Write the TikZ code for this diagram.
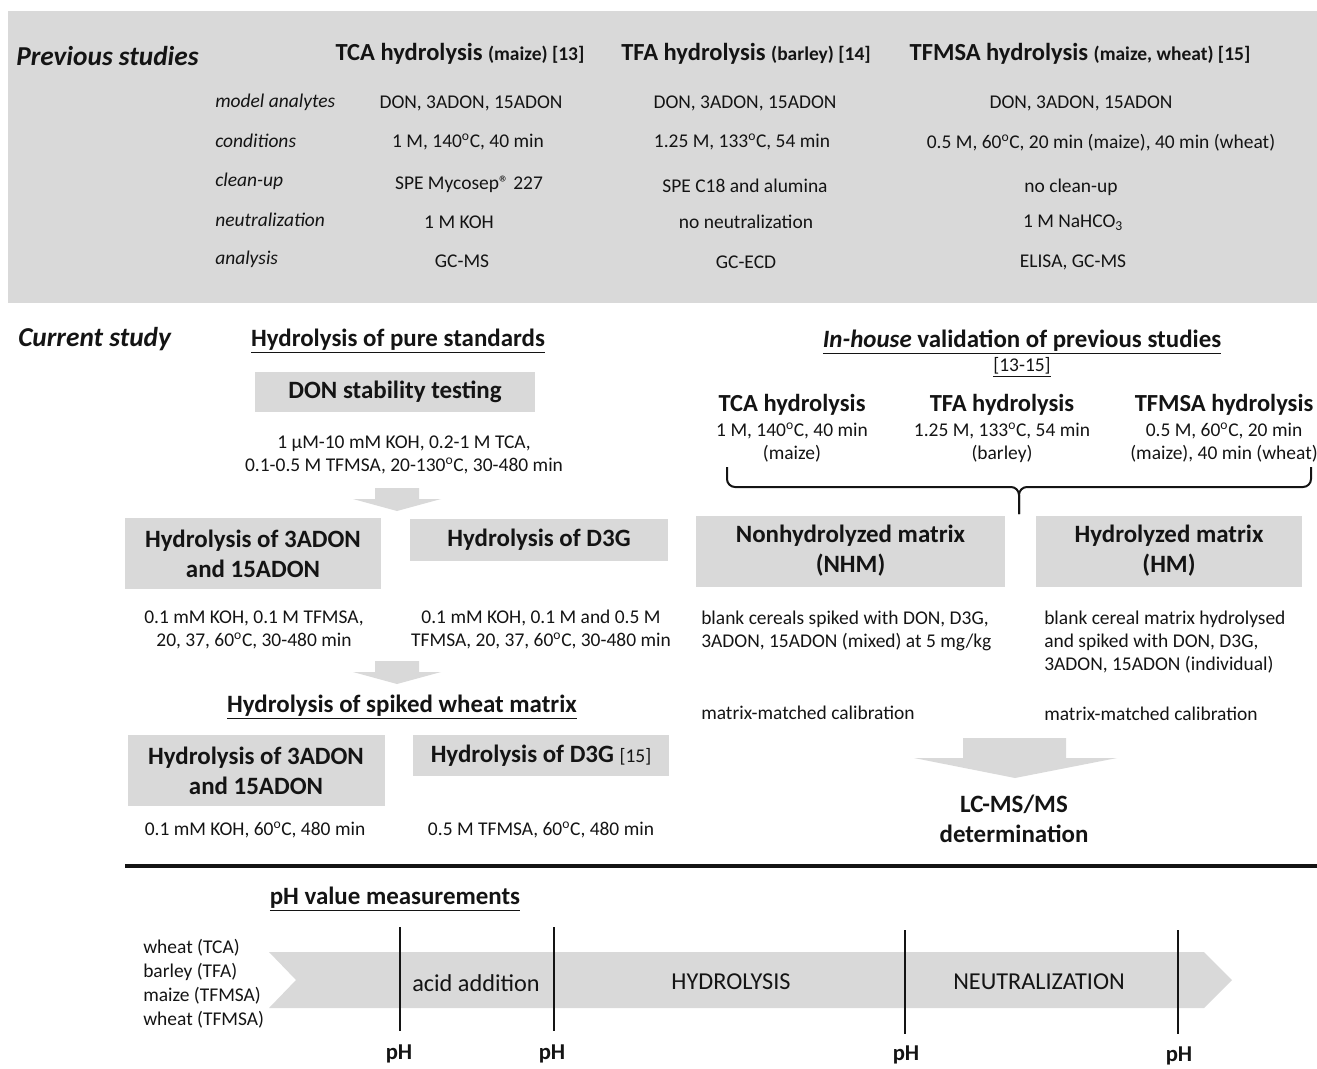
\documentclass[tikz,border=0pt]{standalone}
\usepackage{fontspec}
\setmainfont{Carlito}
\definecolor{boxgray}{HTML}{D9D9D9}
\definecolor{txt}{HTML}{141414}
\newcommand\fBody{\fontsize{14.6}{17.3}\selectfont}
\newcommand\fHead{\fontsize{18.7}{22.5}\selectfont\bfseries}
\newcommand\fColHead{\fontsize{18.4}{22}\selectfont\bfseries}
\newcommand\fSmallB{\fontsize{14.6}{17.3}\selectfont\bfseries}
\newcommand\fTitle{\fontsize{20.5}{24}\selectfont\bfseries\itshape}
\newcommand\fStep{\fontsize{18.2}{22}\selectfont}
\newcommand\fPH{\fontsize{17}{20}\selectfont\bfseries}
\newcommand\dgr{\textsuperscript{o}}
\begin{document}
\begin{tikzpicture}[x=0.75pt,y=-0.75pt,
  every node/.style={inner sep=0pt, text=txt},
  wh/.style 2 args={minimum width=#1*0.75pt, minimum height=#2*0.75pt},
  gbox/.style={fill=boxgray, align=center, font=\fHead},
  body/.style={font=\fBody, align=center},
  lbody/.style={font=\fBody, align=left, anchor=west},
  rowlab/.style={font=\fBody\itshape, anchor=west},
  colhead/.style={font=\fColHead},
  section/.style={font=\fHead},
  title/.style={font=\fTitle, anchor=west},
  steptext/.style={font=\fStep},
  phlab/.style={font=\fPH},
  blockarrow/.style={fill=boxgray, draw=none},
  rule/.style={line width=1.5pt, draw=txt}]
\useasboundingbox (0,0) rectangle (1317,1068);

% ---------- Previous studies panel ----------
\fill[boxgray] (8,11) rectangle (1317,303);
\node[title] (prev) at (16,56) {Previous studies};
\node[colhead] (h1) at (460,54) {TCA hydrolysis {\fSmallB (maize) [13]}};
\node[colhead] (h2) at (746,54) {TFA hydrolysis {\fSmallB (barley) [14]}};
\node[colhead] (h3) at (1080,54) {TFMSA hydrolysis {\fSmallB (maize, wheat) [15]}};

\node[rowlab] (r1) at (215,102) {model analytes};
\node[rowlab] (r2) at (215,141) {conditions};
\node[rowlab] (r3) at (215,181) {clean-up};
\node[rowlab] (r4) at (215,220) {neutralization};
\node[rowlab] (r5) at (215,259) {analysis};

\node[body] (c11) at (471,103) {DON, 3ADON, 15ADON};
\node[body] (c12) at (468,142) {1 M, 140\dgr C, 40 min};
\node[body] (c13) at (469,184) {SPE Mycosep® 227};
\node[body] (c14) at (459,222) {1 M KOH};
\node[body] (c15) at (462,261) {GC-MS};

\node[body] (c21) at (745,103) {DON, 3ADON, 15ADON};
\node[body] (c22) at (742,142) {1.25 M, 133\dgr C, 54 min};
\node[body] (c23) at (745,186) {SPE C18 and alumina};
\node[body] (c24) at (746,222) {no neutralization};
\node[body] (c25) at (746,262) {GC-ECD};

\node[body] (c31) at (1081,103) {DON, 3ADON, 15ADON};
\node[body] (c32) at (1101,143) {0.5 M, 60\dgr C, 20 min (maize), 40 min (wheat)};
\node[body] (c33) at (1071,187) {no clean-up};
\node[body] (c34) at (1073,223) {1 M NaHCO\textsubscript{3}};
\node[body] (c35) at (1073,262) {ELISA, GC-MS};

% ---------- Current study, left ----------
\node[title] (cur) at (18,339) {Current study};
\node[section] (pure) at (398,341) {\underline{Hydrolysis of pure standards}};
\node[gbox, wh={280}{40}] (don) at (395,392) {DON stability testing};
\node[body] (donc) at (404,454.5) {1 µM-10 mM KOH, 0.2-1 M TCA,\\0.1-0.5 M TFMSA, 20-130\dgr C, 30-480 min};

\fill[blockarrow] (375,488) -- (419,488) -- (419,499) -- (441,499) -- (397,511) -- (353,499) -- (375,499) -- cycle;

\node[gbox, wh={256}{71}] (ac1) at (253,553.5) {Hydrolysis of 3ADON\\and 15ADON};
\node[gbox, wh={258}{42}] (dg1) at (539,540) {Hydrolysis of D3G};
\node[body] (ac1c) at (254,629.5) {0.1 mM KOH, 0.1 M TFMSA,\\20, 37, 60\dgr C, 30-480 min};
\node[body] (dg1c) at (541,629.5) {0.1 mM KOH, 0.1 M and 0.5 M\\TFMSA, 20, 37, 60\dgr C, 30-480 min};

\fill[blockarrow] (375,661) -- (419,661) -- (419,672) -- (441,672) -- (397,684) -- (353,672) -- (375,672) -- cycle;

\node[section] (spk) at (402,707) {\underline{Hydrolysis of spiked wheat matrix}};
\node[gbox, wh={257}{71}] (ac2) at (256,770.5) {Hydrolysis of 3ADON\\and 15ADON};
\node[gbox, wh={256}{41}] (dg2) at (541,755.5) {Hydrolysis of D3G {\fSmallB\mdseries [15]}};
\node[body] (ac2c) at (255,830) {0.1 mM KOH, 60\dgr C, 480 min};
\node[body] (dg2c) at (541,830) {0.5 M TFMSA, 60\dgr C, 480 min};

% ---------- Current study, right ----------
\node[section] (inh) at (1022,342) {\underline{\textit{In-house} validation of previous studies}};
\node[body] (ref) at (1022,367) {\underline{[13-15]}};

\node[colhead] (tca) at (792,405) {TCA hydrolysis};
\node[body] (tcac) at (792,443) {1 M, 140\dgr C, 40 min\\(maize)};
\node[colhead] (tfa) at (1002,405) {TFA hydrolysis};
\node[body] (tfac) at (1002,443) {1.25 M, 133\dgr C, 54 min\\(barley)};
\node[colhead] (tfm) at (1224,405) {TFMSA hydrolysis};
\node[body] (tfmc) at (1224,443) {0.5 M, 60\dgr C, 20 min\\(maize), 40 min (wheat)};

\coordinate (bl) at (727,467);
\coordinate (br) at (1311,467);
\coordinate (bt) at (1019,514);
\draw[line width=1.5pt, draw=txt, rounded corners=6] (bl) -- (bl |- 0,487) -- (bt |- 0,487) -- (bt);
\draw[line width=1.5pt, draw=txt, rounded corners=6] (br) -- (br |- 0,487) -- (bt |- 0,487) -- (bt);

\node[gbox, wh={309}{71}] (nhm) at (850.5,551) {Nonhydrolyzed matrix\\(NHM)};
\node[gbox, wh={266}{71}] (hm) at (1169,551) {Hydrolyzed matrix\\(HM)};

\node[lbody] (nhmc) at (701,630.5) {blank cereals spiked with DON, D3G,\\3ADON, 15ADON (mixed) at 5 mg/kg};
\node[lbody] (hmc) at (1044,642.5) {blank cereal matrix hydrolysed\\and spiked with DON, D3G,\\3ADON, 15ADON (individual)};
\node[lbody] (mm1) at (701,713) {matrix-matched calibration};
\node[lbody] (mm2) at (1044,714) {matrix-matched calibration};

\fill[blockarrow] (963,738) -- (1066,738) -- (1066,758) -- (1117,758) -- (1015,778) -- (914,758) -- (963,758) -- cycle;
\node[section, align=center] (lcms) at (1014,819) {LC-MS/MS\\determination};

% ---------- separator ----------
\coordinate (s1) at (125,866);
\coordinate (s2) at (1317,866);
\draw[line width=2.3pt, draw=txt] (s1) -- (s2);

% ---------- pH measurements ----------
\node[section] (phm) at (395,899) {\underline{pH value measurements}};
\fill[boxgray] (269,952) -- (1204,952) -- (1232,980) -- (1204,1008) -- (269,1008) -- (296,980) -- cycle;

\node[lbody] (w1) at (143,948) {wheat (TCA)};
\node[lbody] (w2) at (143,972) {barley (TFA)};
\node[lbody] (w3) at (143,996) {maize (TFMSA)};
\node[lbody] (w4) at (143,1020) {wheat (TFMSA)};

\node[steptext] (acid) at (476,983) {acid addition};
\node[steptext] (hyd) at (731,982) {HYDROLYSIS};
\node[steptext] (neu) at (1039,982) {NEUTRALIZATION};

\node[phlab] (p1) at (399,1054) {pH};
\node[phlab] (p2) at (552,1054) {pH};
\node[phlab] (p3) at (906,1055) {pH};
\node[phlab] (p4) at (1179,1056) {pH};
\draw[rule] (400,927) -- (400,1031);
\draw[rule] (554,927) -- (554,1031);
\draw[rule] (905,930) -- (905,1034);
\draw[rule] (1178,930) -- (1178,1034);
\end{tikzpicture}
\end{document}
